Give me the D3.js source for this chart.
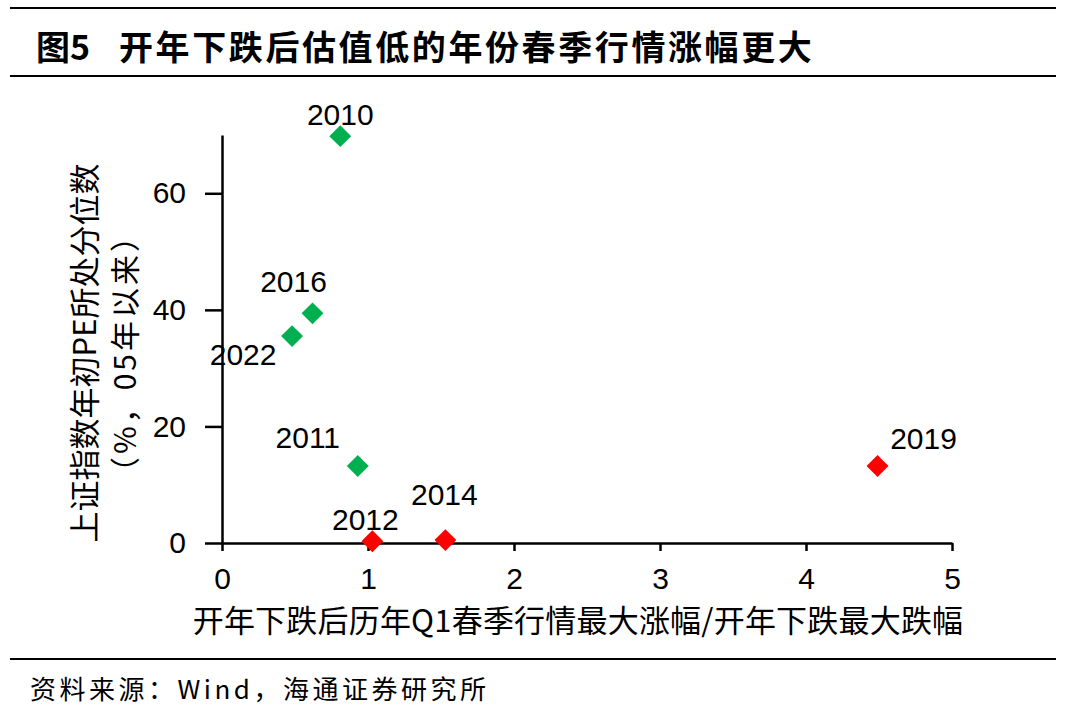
<!DOCTYPE html>
<html>
<head>
<meta charset="utf-8">
<script src="https://cdn.jsdelivr.net/npm/d3@7"></script>
<style>
  body { margin: 0; background: #fff; }
  text { fill: #000; }
</style>
</head>
<body>
<div id="chart"></div>
<script>
// data
var years = ["2010", "2016", "2022", "2011", "2012", "2014", "2019"];
var xValues = [0.81, 0.62, 0.48, 0.93, 1.03, 1.53, 4.49];
var yValues = [69.8, 39.4, 35.5, 13.2, 0.3, 0.5, 13.2];
var groups = ["low", "low", "low", "low", "high", "high", "high"];
var xTicks = [0, 1, 2, 3, 4, 5];
var yTicks = [0, 20, 40, 60];

var svgWidth = 1068;
var svgHeight = 715;

// label placement relative to each point (dx to center, dy to baseline)
var labelShift = {
  "2010": [0, -11],
  "2016": [-19, -21],
  "2022": [-49, 29],
  "2011": [-50, -18],
  "2012": [-7, -11],
  "2014": [-1, -35],
  "2019": [46, -17]
};

var colors = { low: "#00B050", high: "#FF0000" };

var svg = d3.select("#chart")
  .append("svg")
  .attr("width", svgWidth)
  .attr("height", svgHeight);

var cjk = "'Noto Sans CJK SC', sans-serif";
var latin = "'Liberation Sans', Arial, sans-serif";

// frame lines
[8, 76, 659].forEach(function(y) {
  svg.append("line")
    .attr("x1", 10).attr("x2", 1056)
    .attr("y1", y).attr("y2", y)
    .attr("stroke", "#000")
    .attr("stroke-width", 2.2);
});

// title
svg.append("text")
  .attr("x", 36)
  .attr("y", 60)
  .style("font-family", cjk)
  .style("font-weight", 700)
  .style("font-size", "34px")
  .text("图5");

svg.append("text")
  .attr("x", 119)
  .attr("y", 60)
  .style("font-family", cjk)
  .style("font-weight", 700)
  .style("font-size", "34px")
  .style("letter-spacing", "2.6px")
  .text("开年下跌后估值低的年份春季行情涨幅更大");

// source
svg.append("text")
  .attr("x", 30)
  .attr("y", 699)
  .style("font-family", cjk)
  .style("font-size", "26px")
  .style("letter-spacing", "3.5px")
  .text("资料来源：Wind，海通证券研究所");

var x = d3.scaleLinear().domain([0, 5]).range([222, 952]);
var y = d3.scaleLinear().domain([0, 70]).range([543, 135]);

var xAxis = d3.axisBottom(x).tickValues(xTicks).tickFormat(d3.format("d"))
  .tickSize(8).tickPadding(17).tickSizeOuter(0);
var yAxis = d3.axisLeft(y).tickValues(yTicks).tickFormat(d3.format("d"))
  .tickSize(9).tickPadding(27).tickSizeOuter(0);

var gx = svg.append("g")
  .attr("transform", "translate(0," + y(0) + ")")
  .call(xAxis);

var gy = svg.append("g")
  .attr("transform", "translate(" + x(0) + ",0)")
  .call(yAxis);

[gx, gy].forEach(function(g) {
  g.select(".domain").attr("stroke", "#000").attr("stroke-width", 2.5);
  g.selectAll(".tick line").attr("stroke", "#000").attr("stroke-width", 2.5);
  g.selectAll(".tick text")
    .style("font-family", latin)
    .style("font-size", "30px")
    .attr("fill", "#000");
});
// y axis 0 tick crosses below, x axis line starts at the tick end
gy.selectAll(".tick line").attr("x2", -17);
gx.selectAll(".tick text").attr("dy", "0.71em");

// axis titles
svg.append("text")
  .attr("transform", "translate(578,632)")
  .attr("text-anchor", "middle")
  .style("font-family", cjk)
  .style("font-size", "31px")
  .style("letter-spacing", "0.2px")
  .text("开年下跌后历年Q1春季行情最大涨幅/开年下跌最大跌幅");

svg.append("text")
  .attr("transform", "translate(82,353) rotate(-90)")
  .attr("text-anchor", "middle")
  .attr("dominant-baseline", "central")
  .style("font-family", cjk)
  .style("font-size", "31px")
  .text("上证指数年初PE所处分位数");

svg.append("text")
  .attr("transform", "translate(123,353) rotate(-90)")
  .attr("text-anchor", "middle")
  .attr("dominant-baseline", "central")
  .style("font-family", cjk)
  .style("font-size", "30px")
  .style("letter-spacing", "3px")
  .text("（%，05年以来）");

// points
var points = years.map(function(yr, i) {
  return { year: yr, x: xValues[i], y: yValues[i], group: groups[i] };
});

var diamond = d3.symbol().type(d3.symbolSquare).size(240);

svg.selectAll("path.pt")
  .data(points)
  .enter()
  .append("path")
  .attr("class", "pt")
  .attr("d", diamond)
  .attr("transform", d => "translate(" + x(d.x) + "," + y(d.y) + ") rotate(45)")
  .attr("fill", d => colors[d.group]);

svg.selectAll("text.lbl")
  .data(points)
  .enter()
  .append("text")
  .attr("class", "lbl")
  .attr("x", d => x(d.x) + labelShift[d.year][0])
  .attr("y", d => y(d.y) + labelShift[d.year][1])
  .attr("text-anchor", "middle")
  .style("font-family", latin)
  .style("font-size", "30px")
  .text(d => d.year);
</script>
</body>
</html>
